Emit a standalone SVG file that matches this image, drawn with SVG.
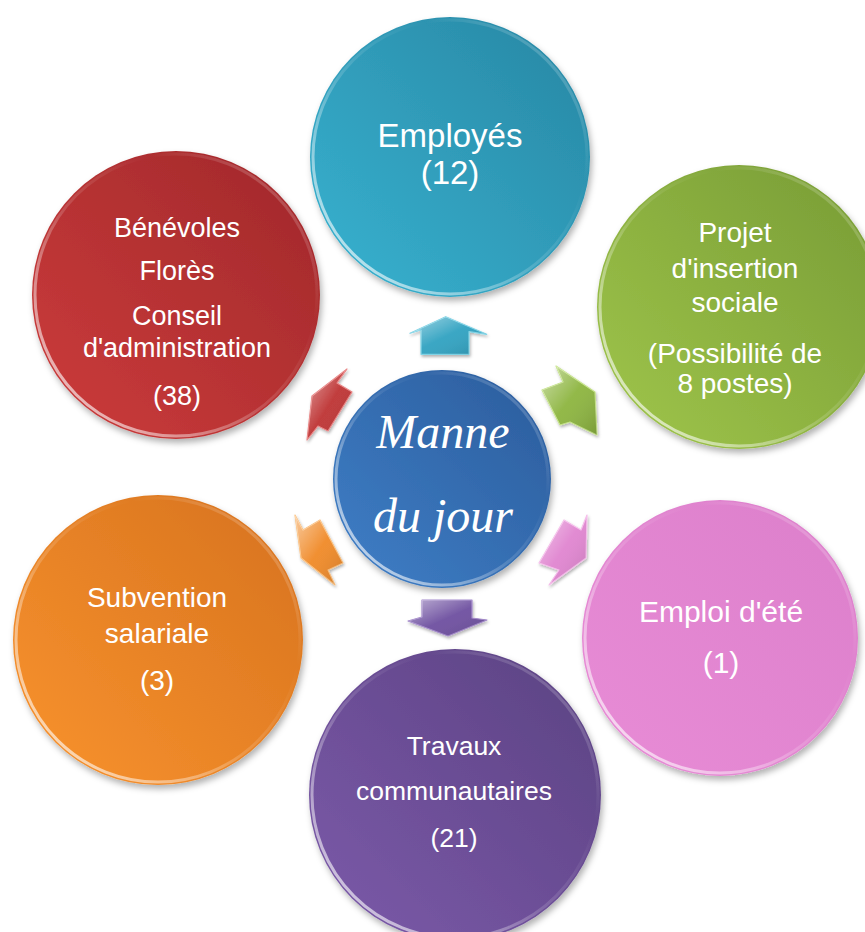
<svg xmlns="http://www.w3.org/2000/svg" width="865" height="932" viewBox="0 0 865 932">
<defs>
<linearGradient id="gCyan" x1="1" y1="0" x2="0" y2="1"><stop offset="0" stop-color="#2886A3"/><stop offset="1" stop-color="#38B3D1"/></linearGradient>
<linearGradient id="gRed" x1="1" y1="0" x2="0" y2="1"><stop offset="0" stop-color="#A0282A"/><stop offset="1" stop-color="#CD3C3C"/></linearGradient>
<linearGradient id="gGreen" x1="1" y1="0" x2="0" y2="1"><stop offset="0" stop-color="#779B35"/><stop offset="1" stop-color="#A0C64B"/></linearGradient>
<linearGradient id="gPink" x1="1" y1="0" x2="0" y2="1"><stop offset="0" stop-color="#DC7FCB"/><stop offset="1" stop-color="#E88CD6"/></linearGradient>
<linearGradient id="gPurple" x1="1" y1="0" x2="0" y2="1"><stop offset="0" stop-color="#5B4282"/><stop offset="1" stop-color="#7C5AAA"/></linearGradient>
<linearGradient id="gOrange" x1="1" y1="0" x2="0" y2="1"><stop offset="0" stop-color="#D6721E"/><stop offset="1" stop-color="#F9932E"/></linearGradient>
<linearGradient id="gBlue" x1="1" y1="0" x2="0" y2="1"><stop offset="0" stop-color="#2B5C9C"/><stop offset="1" stop-color="#3F7FC7"/></linearGradient>
<linearGradient id="rim" x1="0" y1="1" x2="1" y2="0"><stop offset="0" stop-color="#FFFFFF" stop-opacity="0.85"/><stop offset="0.45" stop-color="#FFFFFF" stop-opacity="0.15"/><stop offset="0.7" stop-color="#FFFFFF" stop-opacity="0"/><stop offset="1" stop-color="#FFFFFF" stop-opacity="0.35"/></linearGradient>
<linearGradient id="shine" x1="0" y1="0" x2="1" y2="1"><stop offset="0" stop-color="#FFFFFF" stop-opacity="0.55"/><stop offset="0.5" stop-color="#FFFFFF" stop-opacity="0.05"/><stop offset="1" stop-color="#000000" stop-opacity="0.15"/></linearGradient>
<filter id="sh" x="-20%" y="-20%" width="140%" height="140%"><feDropShadow dx="2" dy="4" stdDeviation="3" flood-color="#000" flood-opacity="0.3"/></filter>
<filter id="ash" x="-30%" y="-30%" width="160%" height="160%"><feDropShadow dx="1" dy="2" stdDeviation="1.5" flood-color="#000" flood-opacity="0.3"/></filter>
</defs>
<style>
.rim{fill:none;stroke:url(#rim);stroke-width:3}
.t{fill:#FFFFFF;font-family:"Liberation Sans",Arial,sans-serif;text-anchor:middle}
.c{fill:#FFFFFF;font-family:"Liberation Serif","Times New Roman",serif;font-style:italic;text-anchor:middle;font-size:48px}
.arrow{filter:url(#ash);stroke-width:1.2;stroke-linejoin:round}
.gl{fill:url(#shine);stroke:none}
</style>
<rect width="865" height="932" fill="#FFFFFF"/>

<g id="connectors">
<g class="arrow"><polygon points="445.7,316.7 486.7,334.3 469,331.7 469,354.3 421,354.3 421,330 410,333.3" fill="#30A2C1" stroke="#7FD3E6"/><polygon class="gl" points="445.7,316.7 486.7,334.3 469,331.7 469,354.3 421,354.3 421,330 410,333.3"/></g>
<g class="arrow"><polygon points="595,392 597,435 570,422 560,425 542,390 563,382 556,366" fill="#8DB540" stroke="#C6E38A"/><polygon class="gl" points="595,392 597,435 570,422 560,425 542,390 563,382 556,366"/></g>
<g class="arrow"><polygon points="586,558 549,585 559,570 539,563 564,520 581,530 587,515" fill="#E085D0" stroke="#F5BDEA"/><polygon class="gl" points="586,558 549,585 559,570 539,563 564,520 581,530 587,515"/></g>
<g class="arrow"><polygon points="448,636 408,621 422,617 422,600 472,600 472,618 487,620" fill="#6E50A0" stroke="#A48ACB"/><polygon class="gl" points="448,636 408,621 422,617 422,600 472,600 472,618 487,620"/></g>
<g class="arrow"><polygon points="301,558 295,515 303,530 320,520 343,563 328,570 335,585" fill="#F08A28" stroke="#FBC07F"/><polygon class="gl" points="301,558 295,515 303,530 320,520 343,563 328,570 335,585"/></g>
<g class="arrow"><polygon points="312,396 347,369 337,383 352,392 328,431 318,426 307,440" fill="#BE3434" stroke="#E98585"/><polygon class="gl" points="312,396 347,369 337,383 352,392 328,431 318,426 307,440"/></g>
</g>

<g id="node-employes">
<circle cx="450" cy="157" r="140" fill="url(#gCyan)" filter="url(#sh)"/>
<circle cx="450" cy="157" r="137" class="rim"/>
<text class="t" font-size="33" x="450" y="147">Employés</text>
<text class="t" font-size="33" x="450" y="184">(12)</text>
</g>

<g id="node-benevoles">
<circle cx="176" cy="295" r="144" fill="url(#gRed)" filter="url(#sh)"/>
<circle cx="176" cy="295" r="141" class="rim"/>
<text class="t" font-size="27" x="177" y="237">Bénévoles</text>
<text class="t" font-size="27" x="177" y="280">Florès</text>
<text class="t" font-size="27" x="177" y="325">Conseil</text>
<text class="t" font-size="27" x="177" y="357">d'administration</text>
<text class="t" font-size="27" x="177" y="405">(38)</text>
</g>

<g id="node-projet">
<circle cx="739" cy="307" r="142" fill="url(#gGreen)" filter="url(#sh)"/>
<circle cx="739" cy="307" r="139" class="rim"/>
<text class="t" font-size="28" x="735" y="242">Projet</text>
<text class="t" font-size="28" x="735" y="278">d'insertion</text>
<text class="t" font-size="28" x="735" y="312">sociale</text>
<text class="t" font-size="28" x="735" y="363">(Possibilité de</text>
<text class="t" font-size="28" x="735" y="393">8 postes)</text>
</g>

<g id="node-emploi-ete">
<circle cx="720" cy="638" r="138" fill="url(#gPink)" filter="url(#sh)"/>
<circle cx="720" cy="638" r="135" class="rim"/>
<text class="t" font-size="30" x="721" y="622">Emploi d'été</text>
<text class="t" font-size="30" x="721" y="673">(1)</text>
</g>

<g id="node-travaux">
<circle cx="455" cy="795" r="146" fill="url(#gPurple)" filter="url(#sh)"/>
<circle cx="455" cy="795" r="143" class="rim"/>
<text class="t" font-size="26.5" x="454" y="755">Travaux</text>
<text class="t" font-size="26.5" x="454" y="800">communautaires</text>
<text class="t" font-size="26.5" x="454" y="847">(21)</text>
</g>

<g id="node-subvention">
<circle cx="158" cy="640" r="145" fill="url(#gOrange)" filter="url(#sh)"/>
<circle cx="158" cy="640" r="142" class="rim"/>
<text class="t" font-size="28" x="157" y="607">Subvention</text>
<text class="t" font-size="28" x="157" y="643">salariale</text>
<text class="t" font-size="28" x="157" y="690">(3)</text>
</g>

<g id="node-manne">
<circle cx="442" cy="479" r="109" fill="url(#gBlue)" filter="url(#sh)"/>
<circle cx="442" cy="479" r="106" class="rim"/>
<text class="c" x="443" y="448">Manne</text>
<text class="c" x="443" y="532">du jour</text>
</g>
</svg>
